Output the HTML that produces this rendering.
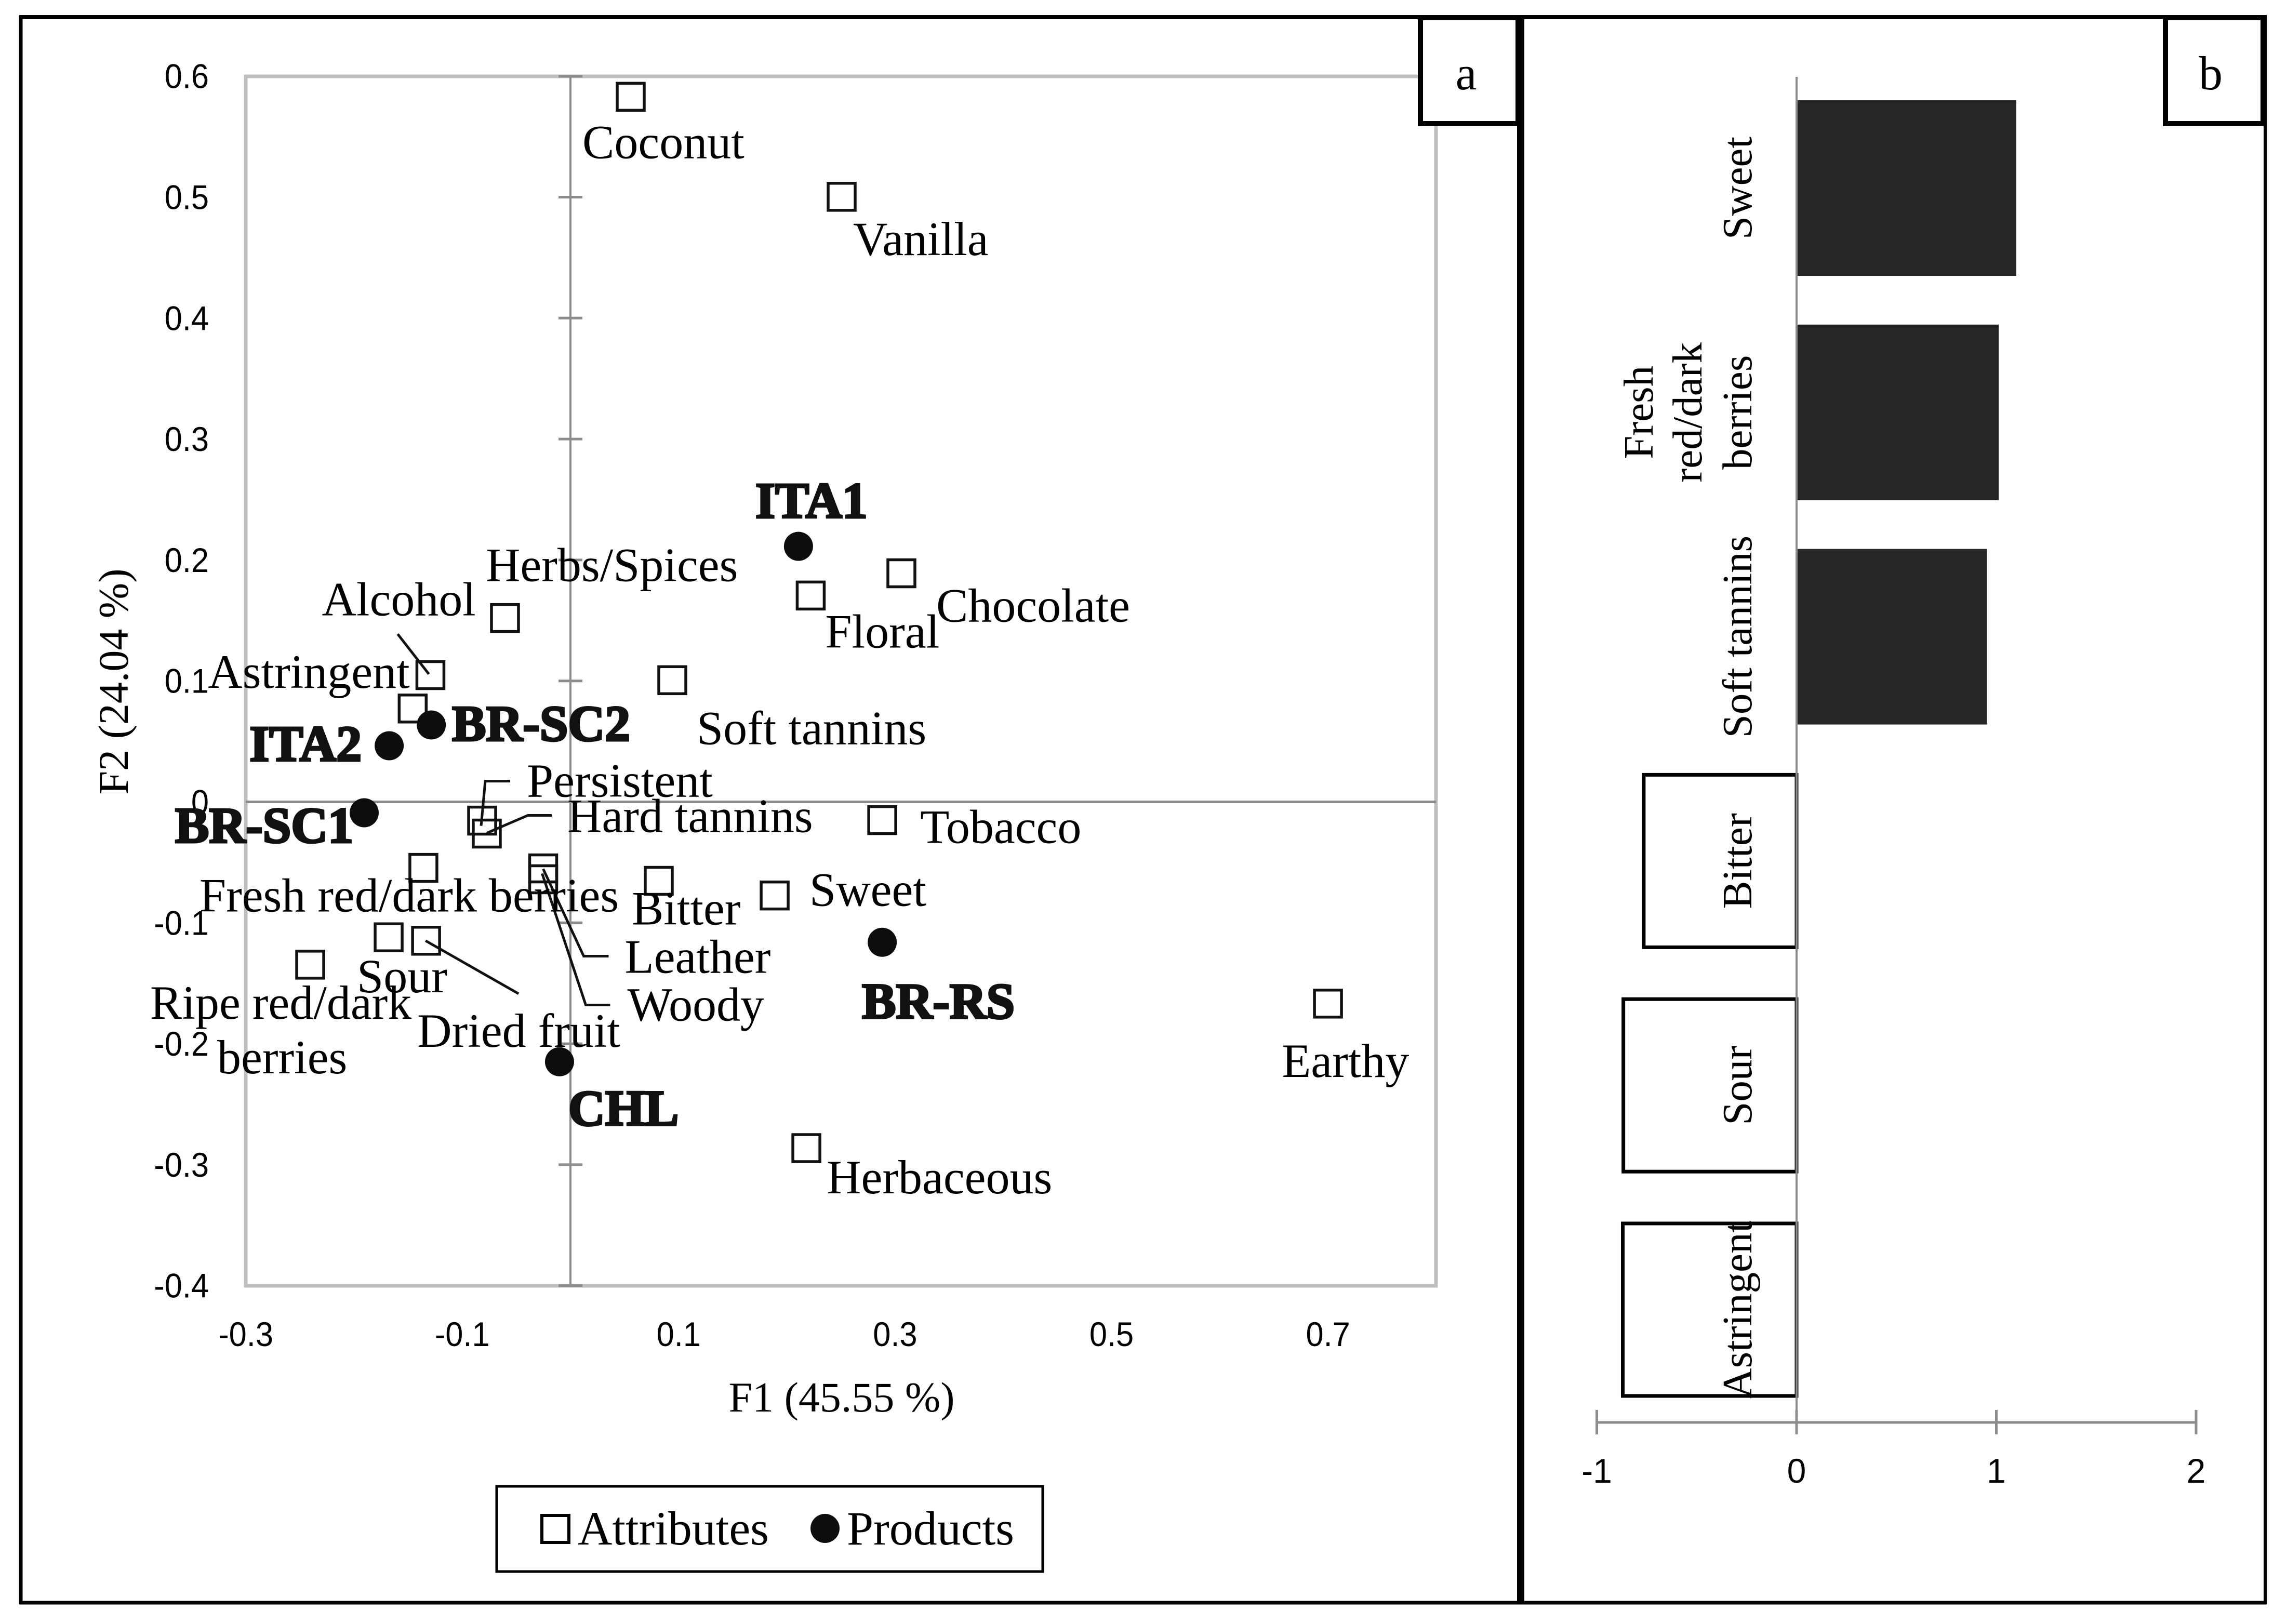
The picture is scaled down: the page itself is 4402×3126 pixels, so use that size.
<!DOCTYPE html>
<html lang="en">
<head>
<meta charset="utf-8">
<title>Attribute and product map with discriminating attributes</title>
<style>
html,body{margin:0;padding:0;background:#fff;width:4402px;height:3126px;overflow:hidden}
svg{display:block}
.serif{font-family:"Liberation Serif",serif;fill:#000}
.sans{font-family:"Liberation Sans",sans-serif;fill:#000}
.lbl{font-size:92px}
.prod{font-size:98px;font-weight:bold;fill:#111;stroke:#111;stroke-width:4px}
.tick-a{font-size:66px}
.tick-b{font-size:66px}
.title{font-size:82px}
.cat{font-size:81px}
</style>
</head>
<body>
<svg id="chart" xmlns="http://www.w3.org/2000/svg" width="4402" height="3126" viewBox="0 0 4402 3126">
  <rect x="0" y="0" width="4402" height="3126" fill="#fff"/>
  <g id="panelA">
    <rect x="473" y="147" width="2291" height="2328" fill="none" stroke="#bfbfbf" stroke-width="7"/>
    <g id="axesA"></g>
    <g id="leadersA"></g>
    <g id="marksA"></g>
    <g id="labelsA"></g>
    <text class="serif title" x="1620" y="2717" text-anchor="middle">F1 (45.55 %)</text>
    <text class="serif title" transform="translate(246,1312) rotate(-90)" text-anchor="middle">F2 (24.04 %)</text>
    <g>
      <rect x="956" y="2861" width="1051" height="164" fill="#fff" stroke="#000" stroke-width="5"/>
      <rect x="1043" y="2917" width="52" height="52" fill="none" stroke="#000" stroke-width="6"/>
      <text class="serif lbl" x="1112" y="2973">Attributes</text>
      <circle cx="1588" cy="2942" r="28" fill="#0d0d0d"/>
      <text class="serif lbl" x="1630" y="2973">Products</text>
    </g>
  </g>
  <g id="panelB">
    <g id="barsB"></g>
    <g id="axesB"></g>
    <g id="catsB"></g>
  </g>
  <g>
    <line x1="37" y1="33" x2="4363" y2="33" stroke="#000" stroke-width="8"/>
    <line x1="40" y1="30" x2="40" y2="3088" stroke="#000" stroke-width="7"/>
    <line x1="37" y1="3085" x2="4363" y2="3085" stroke="#000" stroke-width="7"/>
    <line x1="4360" y1="30" x2="4360" y2="3088" stroke="#000" stroke-width="6"/>
    <line x1="2927" y1="30" x2="2927" y2="3088" stroke="#000" stroke-width="14"/>
  </g>
  <g>
    <rect x="2734" y="34" width="188" height="204" fill="#fff" stroke="#000" stroke-width="10"/>
    <text class="serif lbl" x="2822" y="172" text-anchor="middle">a</text>
  </g>
  <g>
    <rect x="4168" y="34" width="188" height="204" fill="#fff" stroke="#000" stroke-width="10"/>
    <text class="serif lbl" x="4255" y="172" text-anchor="middle">b</text>
  </g>
</svg>
<script>
// ---- Panel a data ----
const attributeNames = ["Coconut","Vanilla","Chocolate","Floral","Herbs/Spices","Soft tannins","Alcohol","Astringent","Persistent","Hard tannins","Tobacco","Fresh red/dark berries","Leather","Woody","Bitter","Sweet","Sour","Dried fruit","Ripe red/dark berries","Earthy","Herbaceous"];
const attributeF1 = [0.0557,0.2506,0.3058,0.222,-0.0605,0.0941,-0.1294,-0.1458,-0.0816,-0.0773,0.2881,-0.1359,-0.0252,-0.0252,0.0816,0.1887,-0.168,-0.1334,-0.2405,0.7,0.218];
const attributeF2 = [0.583,0.5003,0.189,0.1706,0.152,0.1006,0.1048,0.0772,-0.0155,-0.0262,-0.0151,-0.0546,-0.055,-0.064,-0.0653,-0.0774,-0.112,-0.1148,-0.1346,-0.1668,-0.2863];
const productNames = ["ITA1","BR-SC2","ITA2","BR-SC1","BR-RS","CHL"];
const productF1 = [0.2107,-0.1286,-0.1675,-0.1906,0.2881,-0.0101];
const productF2 = [0.2113,0.0636,0.0464,-0.009,-0.1161,-0.2149];
const xTickLabelsA = ["-0.3","-0.1","0.1","0.3","0.5","0.7"];
const yTickLabelsA = ["0.6","0.5","0.4","0.3","0.2","0.1","0","-0.1","-0.2","-0.3","-0.4"];

// ---- Panel b data ----
const barCategories = ["Sweet","Fresh red/dark berries","Soft tannins","Bitter","Sour","Astringent"];
const barValues = [1.1,1.012,0.953,-0.765,-0.867,-0.87];
const xTickLabelsB = ["-1","0","1","2"];

// ---- Scales ----
function xA(v){ return 1098 + v * 2083; }
function yA(v){ return 1543.5 - v * 2328; }
function xB(v){ return 3458 + v * 384.5; }
function bandB(i){ return 362 + i * 431.8; }

const SVGNS = "http://www.w3.org/2000/svg";
function mk(tag, parent, attrs, text){
  const el = document.createElementNS(SVGNS, tag);
  for (const k in attrs) el.setAttribute(k, attrs[k]);
  if (text !== undefined) el.textContent = text;
  parent.appendChild(el);
  return el;
}
function slug(s){ return s.toLowerCase().replace(/[^a-z0-9]+/g, "-"); }

// Label placement relative to each marker centre (layout, not data)
const attrLabelOffset = {
  "Coconut":[-93,118],"Vanilla":[22,112],"Chocolate":[67,93],"Floral":[28,100],"Herbs/Spices":[-37,-71],
  "Soft tannins":[47,123],"Alcohol":[-209,-115],"Astringent":[-394,-40],"Persistent":[86,-46],"Hard tannins":[155,-3],
  "Tobacco":[73,44],"Fresh red/dark berries":[-431,84],"Leather":[157,201],"Woody":[162,272],"Bitter":[-52,84],
  "Sweet":[67,20],"Sour":[-61,106],"Dried fruit":[-17,204],"Earthy":[-89,141],"Herbaceous":[39,87]
};
const prodLabelOffset = {"ITA1":[-83,-55],"BR-SC2":[40,30],"ITA2":[-269,29],"BR-SC1":[-364,57],"BR-RS":[-39,146],"CHL":[17,122]};
const leaderOffsets = {
  "Alcohol":[[-63,-79],[-3,-2]],
  "Persistent":[[54,-76],[6,-76],[-2,10]],
  "Hard tannins":[[125,-35],[79,-35],[0,-1]],
  "Leather":[[126,169],[78,169],[0,1]],
  "Woody":[[129,242],[82,242],[-2,-11]],
  "Dried fruit":[[178,102],[-1,0]]
};

const axesA = document.getElementById("axesA");
const leadersA = document.getElementById("leadersA");
const marksA = document.getElementById("marksA");
const labelsA = document.getElementById("labelsA");

// Axes panel a
const zeroLineH = mk("line", axesA, {x1:473, x2:2764, y1:yA(0), y2:yA(0), stroke:"#8c8c8c", "stroke-width":5});


const zeroLineV = mk("line", axesA, {x1:xA(0), x2:xA(0), y1:yA(0.6), y2:yA(-0.4), stroke:"#8c8c8c", "stroke-width":4});



yTickLabelsA.forEach(function(t){
  const v = parseFloat(t);
  const tk = mk("line", axesA, {x1:xA(0)-23, x2:xA(0)+23, y1:yA(v), y2:yA(v), stroke:"#8c8c8c", "stroke-width":5});
  
  
  const lb = mk("text", axesA, {class:"sans tick-a", "text-anchor":"end", transform:"translate(402," + (yA(v)+23) + ") scale(0.93,1)"}, t);
  
  
});
xTickLabelsA.forEach(function(t){
  const v = parseFloat(t);
  const lb = mk("text", axesA, {class:"sans tick-a", "text-anchor":"middle", transform:"translate(" + xA(v) + ",2591) scale(0.93,1)"}, t);
  
  
});

// Attribute markers
attributeNames.forEach(function(name, i){
  const cx = xA(attributeF1[i]), cy = yA(attributeF2[i]);
  const sq = mk("rect", marksA, {x:cx-26, y:cy-26, width:52, height:52, fill:"none", stroke:"#111", "stroke-width":5.5});
  
  
  if (leaderOffsets[name]) {
    const pts = leaderOffsets[name].map(function(p){ return (cx+p[0]) + "," + (cy+p[1]); }).join(" ");
    const ld = mk("polyline", leadersA, {points:pts, fill:"none", stroke:"#111", "stroke-width":5});
    
    
  }
  if (name === "Ripe red/dark berries") {
    const l1 = mk("text", labelsA, {class:"serif lbl", x:cx-308, y:cy+104}, "Ripe red/dark");
    
    
    const l2 = mk("text", labelsA, {class:"serif lbl", x:cx-179, y:cy+209}, "berries");
    
    
  } else {
    const o = attrLabelOffset[name];
    const lb = mk("text", labelsA, {class:"serif lbl", x:cx+o[0], y:cy+o[1]}, name);
    
    
  }
});

// Product markers
productNames.forEach(function(name, i){
  const cx = xA(productF1[i]), cy = yA(productF2[i]);
  const c = mk("circle", marksA, {cx:cx, cy:cy, r:28, fill:"#0d0d0d"});
  
  
  const o = prodLabelOffset[name];
  const lb = mk("text", labelsA, {class:"serif prod", x:cx+o[0], y:cy+o[1]}, name);
  
  
});

// Panel b bars
const barsB = document.getElementById("barsB");
const axesB = document.getElementById("axesB");
const catsB = document.getElementById("catsB");
barCategories.forEach(function(name, i){
  const v = barValues[i], cy = bandB(i), x0 = xB(0), x1 = xB(v);
  let bar;
  if (v >= 0) {
    bar = mk("rect", barsB, {x:x0, y:cy-169, width:x1-x0, height:338, fill:"#262626"});
  } else {
    bar = mk("rect", barsB, {x:x1, y:cy-166, width:x0-x1, height:332, fill:"#fff", stroke:"#000", "stroke-width":7});
  }
  
  
});

const axisV = mk("line", axesB, {x1:xB(0), x2:xB(0), y1:148, y2:2760, stroke:"#8c8c8c", "stroke-width":4});


const axisH = mk("line", axesB, {x1:xB(-1), x2:xB(2), y1:2738, y2:2738, stroke:"#8c8c8c", "stroke-width":5});


xTickLabelsB.forEach(function(t){
  const v = parseFloat(t);
  const tk = mk("line", axesB, {x1:xB(v), x2:xB(v), y1:2714, y2:2761, stroke:"#8c8c8c", "stroke-width":5});
  
  
  const lb = mk("text", axesB, {class:"sans tick-b", x:xB(v), y:2854, "text-anchor":"middle"}, t);
  
  
});

barCategories.forEach(function(name, i){
  const cy = bandB(i);
  const lines = name === "Fresh red/dark berries" ? ["Fresh","red/dark","berries"] : [name];
  const baseX = [3371, 3275, 3181];
  lines.slice().reverse().forEach(function(line, j){
    const lb = mk("text", catsB, {class:"serif cat", "text-anchor":"middle", transform:"translate(" + baseX[j] + "," + cy + ") rotate(-90)"}, line);
    
    
  });
});
</script>
</body>
</html>
